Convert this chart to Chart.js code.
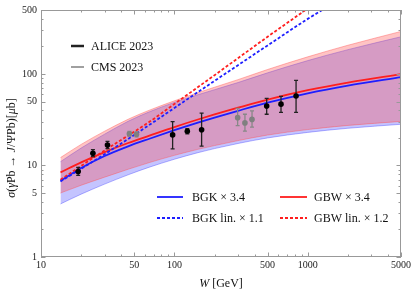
<!DOCTYPE html>
<html lang="en">
<head>
<meta charset="UTF-8">
<title>J/Psi photoproduction on Pb</title>
<script src="https://cdn.jsdelivr.net/npm/chart.js@4.4.1/dist/chart.umd.min.js"></script>
<style>
  html, body { margin: 0; padding: 0; background: #fff; }
  #wrap { width: 414px; height: 294px; }
</style>
</head>
<body>
<div id="wrap"><canvas id="xsChart" width="414" height="294"></canvas></div>
<script>
// W grid (GeV) for the model curves and their bands
const wGrid      = [14, 20, 30, 45, 65, 100, 150, 200, 300, 500, 1000, 2000, 5000];
const bgkCentral = [6.8, 9.4, 12.7, 16.2, 19.6, 24.3, 29.4, 33.4, 39.6, 48.6, 61.5, 74.7, 92.6];
const gbwCentral = [8.4, 10.8, 14.0, 17.6, 21.2, 26.3, 31.8, 36.1, 42.8, 52.5, 66.4, 80.5, 99.6];
const bgkUpper   = [11.0, 15.5, 22.0, 30.4, 38.6, 48.9, 59.3, 67.3, 80.6, 102.9, 140, 184.3, 255];
const bgkLower   = [3.8, 4.86, 6.26, 7.91, 9.59, 11.7, 13.8, 15.3, 17.4, 20.0, 23.0, 25.5, 28.2];
const gbwUpper   = [12.2, 17.0, 23.7, 32.0, 40.2, 50.9, 62.4, 71.6, 86.7, 111.9, 153.9, 205.9, 291.6];
const gbwLower   = [5.0, 6.08, 7.45, 9.09, 10.77, 12.9, 15.0, 16.5, 18.7, 21.5, 24.7, 27.4, 30.3];

// linear-evolution curves
const bgkLinW = [14, 30, 65, 100, 200, 500, 1000, 1400, 2000];
const bgkLin  = [6.7, 13.3, 27.8, 42.5, 84, 205, 400, 540, 760];
const gbwLinW = [14, 30, 65, 100, 200, 500, 1000, 1300];
const gbwLin  = [7.0, 14.6, 30, 47, 97, 255, 520, 680];

// data
const aliceW   = [19, 24.5, 31.5, 97, 125, 160, 492, 630, 817];
const aliceXs  = [8.6, 13.6, 16.7, 21.6, 23.7, 24.6, 44.7, 46.8, 57.5];
const aliceHi  = [9.5, 14.9, 18.3, 30.2, 25.3, 37.3, 54, 57, 85];
const aliceLo  = [7.8, 12.5, 15.3, 15.2, 22.2, 16.3, 36.3, 38, 38];
const cmsW     = [46, 52, 298, 338, 382];
const cmsXs    = [22.2, 21.9, 33.3, 29.2, 31.9];
const cmsHi    = [23.5, 23.3, 42, 36.3, 39.6];
const cmsLo    = [21.0, 20.6, 27.3, 23.7, 26.2];

// axis ticks
const xMajor = [10, 50, 100, 500, 1000, 5000];
const xMinor = [20, 30, 40, 60, 70, 80, 90, 200, 300, 400, 600, 700, 800, 900, 2000, 3000, 4000];
const yMajor = [1, 5, 10, 50, 100, 500];
const yMinor = [2, 3, 4, 6, 7, 8, 9, 20, 30, 40, 60, 70, 80, 90, 200, 300, 400];

const BLUE = 'rgb(30,30,255)';
const RED = 'rgb(255,30,30)';
const SERIF = '"Liberation Serif", "DejaVu Serif", serif';

const pts = (xs, ys) => xs.map((x, i) => ({ x: x, y: ys[i] }));

function curve(data, color, order, dash) {
  return {
    data: data, borderColor: color, borderWidth: 1.8, borderDash: dash || [],
    fill: false, pointRadius: 0, cubicInterpolationMode: 'monotone', order: order
  };
}

function edge(data, color, order, fillColor) {
  return {
    data: data, borderColor: color, borderWidth: 1, pointRadius: 0,
    backgroundColor: fillColor, fill: fillColor ? '+1' : false,
    cubicInterpolationMode: 'monotone', order: order
  };
}

const datasets = [
  // 0,1: BGK band
  edge(pts(wGrid, bgkUpper), 'rgba(90,90,255,0.45)', 10, 'rgba(60,60,255,0.3)'),
  edge(pts(wGrid, bgkLower), 'rgba(90,90,255,0.45)', 10),
  // 2,3: GBW band
  edge(pts(wGrid, gbwUpper), 'rgba(255,90,90,0.45)', 9, 'rgba(255,60,60,0.3)'),
  edge(pts(wGrid, gbwLower), 'rgba(255,90,90,0.45)', 9),
  curve(pts(wGrid, bgkCentral), BLUE, 5),
  curve(pts(wGrid, gbwCentral), RED, 5),
  curve(pts(bgkLinW, bgkLin), BLUE, 4, [3, 2]),
  curve(pts(gbwLinW, gbwLin), RED, 4, [3, 2]),
  { data: pts(aliceW, aliceXs), showLine: false, pointRadius: 2.8, pointBackgroundColor: '#000',
    pointBorderWidth: 0, errHi: aliceHi, errLo: aliceLo, barColor: '#222', order: 1 },
  { data: pts(cmsW, cmsXs), showLine: false, pointRadius: 2.8, pointBackgroundColor: '#808080',
    pointBorderWidth: 0, errHi: cmsHi, errLo: cmsLo, barColor: '#888', order: 1 }
];

function richText(ctx, parts, x, y, size) {
  let total = 0;
  parts.forEach(p => {
    ctx.font = (p[1] ? 'italic ' : '') + size + 'px ' + SERIF;
    total += ctx.measureText(p[0]).width;
  });
  let cx = x - total / 2;
  parts.forEach(p => {
    ctx.font = (p[1] ? 'italic ' : '') + size + 'px ' + SERIF;
    ctx.fillText(p[0], cx, y);
    cx += ctx.measureText(p[0]).width;
  });
}

const decor = {
  id: 'decor',
  beforeDatasetDraw(chart, args) {
    const ds = chart.data.datasets[args.index];
    if (!ds.errHi) return;
    const { ctx, scales: { x, y } } = chart;
    ctx.save();
    ctx.strokeStyle = ds.barColor;
    ctx.lineWidth = 1.3;
    ds.data.forEach((p, i) => {
      const px = x.getPixelForValue(p.x);
      const y1 = y.getPixelForValue(ds.errHi[i]);
      const y2 = y.getPixelForValue(ds.errLo[i]);
      ctx.beginPath();
      ctx.moveTo(px, y1); ctx.lineTo(px, y2);
      ctx.moveTo(px - 2, y1); ctx.lineTo(px + 2, y1);
      ctx.moveTo(px - 2, y2); ctx.lineTo(px + 2, y2);
      ctx.stroke();
    });
    ctx.restore();
  },
  afterDraw(chart) {
    const { ctx, chartArea: a, scales: { x, y } } = chart;
    ctx.save();
    // frame
    ctx.strokeStyle = '#999';
    ctx.lineWidth = 1;
    ctx.strokeRect(Math.round(a.left) + 0.5, Math.round(a.top) + 0.5,
      Math.round(a.right - a.left) - 1, Math.round(a.bottom - a.top) - 1);
    // ticks, drawn inward on all four sides
    ctx.beginPath();
    const xt = (v, len) => {
      const px = Math.round(x.getPixelForValue(v)) + 0.5;
      ctx.moveTo(px, a.bottom); ctx.lineTo(px, a.bottom - len);
      ctx.moveTo(px, a.top); ctx.lineTo(px, a.top + len);
    };
    const yt = (v, len) => {
      const py = Math.round(y.getPixelForValue(v)) + 0.5;
      ctx.moveTo(a.left, py); ctx.lineTo(a.left + len, py);
      ctx.moveTo(a.right, py); ctx.lineTo(a.right - len, py);
    };
    xMajor.forEach(v => xt(v, 4.5));
    xMinor.forEach(v => xt(v, 2.5));
    yMajor.forEach(v => yt(v, 4.5));
    yMinor.forEach(v => yt(v, 2.5));
    ctx.stroke();

    // axis titles
    ctx.fillStyle = '#111';
    ctx.textBaseline = 'alphabetic';
    richText(ctx, [['W', true], [' [GeV]', false]], 221, 287, 12);
    ctx.save();
    ctx.translate(15, 148);
    ctx.rotate(-Math.PI / 2);
    richText(ctx, [['σ', true], ['(', false], ['γ', true], ['Pb → ', false], ['J', true],
      ['/Ψ', false], ['Pb', false], [')', false], ['[', false], ['μ', true], ['b', false], [']', false]],
      0, 0, 12);
    ctx.restore();

    // legends
    ctx.textBaseline = 'middle';
    ctx.font = '12px ' + SERIF;
    const seg = (x1, x2, yy, color, w, dash) => {
      ctx.beginPath();
      ctx.strokeStyle = color; ctx.lineWidth = w; ctx.setLineDash(dash || []);
      ctx.moveTo(x1, yy); ctx.lineTo(x2, yy); ctx.stroke();
      ctx.setLineDash([]);
    };
    seg(71, 84, 46, '#222', 2.5);
    ctx.fillText('ALICE 2023', 91, 46.5);
    seg(71, 84, 67, '#808080', 1.5);
    ctx.fillText('CMS 2023', 91, 67.5);

    seg(157, 183, 197, BLUE, 1.8);
    ctx.fillText('BGK × 3.4', 192, 197.5);
    seg(157, 183, 218, BLUE, 1.8, [3, 2]);
    ctx.fillText('BGK lin. × 1.1', 192, 218.5);
    seg(280, 307, 197, RED, 1.8);
    ctx.fillText('GBW × 3.4', 314, 197.5);
    seg(280, 307, 218, RED, 1.8, [3, 2]);
    ctx.fillText('GBW lin. × 1.2', 314, 218.5);
    ctx.restore();
  }
};

const tickFont = { family: SERIF, size: 10 };

new Chart(document.getElementById('xsChart'), {
  type: 'line',
  data: { datasets: datasets },
  options: {
    responsive: false,
    animation: false,
    devicePixelRatio: 1,
    layout: { padding: { top: 6, right: 13, left: 0, bottom: 0 } },
    plugins: { legend: { display: false }, tooltip: { enabled: false } },
    scales: {
      x: {
        type: 'logarithmic', min: 10, max: 5000,
        grid: { display: false, drawTicks: false }, border: { display: false },
        afterFit: s => { s.height = 37; },
        afterBuildTicks: s => { s.ticks = xMajor.map(v => ({ value: v })); },
        ticks: { font: tickFont, color: '#222', padding: 2, maxRotation: 0, autoSkip: false,
          callback: v => String(v) }
      },
      y: {
        type: 'logarithmic', min: 1, max: 500,
        grid: { display: false, drawTicks: false }, border: { display: false },
        afterFit: s => { s.width = 41; },
        afterBuildTicks: s => { s.ticks = yMajor.map(v => ({ value: v })); },
        ticks: { font: tickFont, color: '#222', padding: 4, autoSkip: false,
          callback: v => String(v) }
      }
    }
  },
  plugins: [decor]
});
</script>
</body>
</html>
